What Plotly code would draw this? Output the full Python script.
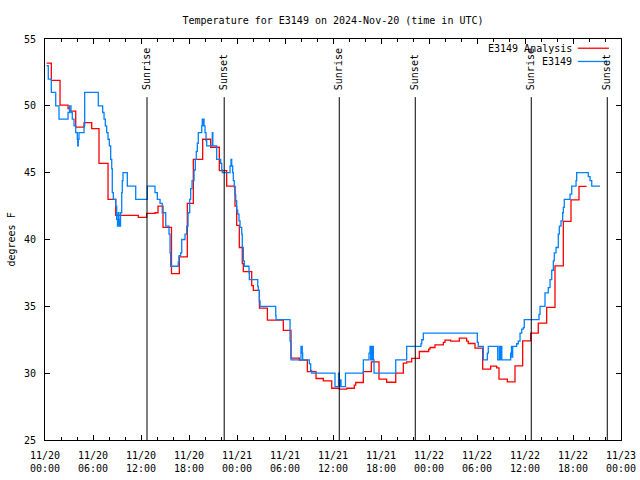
import plotly.graph_objects as go
import pandas as pd

TITLE = "Temperature for E3149 on 2024-Nov-20 (time in UTC)"
START = pd.Timestamp("2024-11-20 00:00")
END = pd.Timestamp("2024-11-23 00:00")

# Analysis series (hours since 11/20 00:00 UTC, degrees F)
ana_hours = [0.21, 0.79, 1.88, 2.88, 3.09, 3.84, 4.88, 5.84, 6.75, 7.88, 8.84, 11.66, 12.71,
             13.75, 14.13, 14.75, 15.81, 16.79, 17.79, 18.54, 19.71, 20.71, 21.79, 22.71,
             23.75, 23.96, 24.29, 24.66, 24.79, 25.84, 26.04, 26.8, 27.8, 29.79, 30.75,
             31.79, 32.79, 33.88, 34.79, 35.84, 36.79, 37.71, 38.66, 38.84, 39.79, 40.79,
             41.75, 42.71, 43.84, 44.79, 45.21, 45.84, 46.79, 47.96, 48.13, 48.75, 49.79,
             50.0, 50.71, 51.79, 52.71, 52.91, 53.75, 54.71, 55.71, 56.46, 56.75, 57.79,
             58.75, 59.71, 60.71, 61.66, 62.71, 63.75, 64.79, 65.75, 66.75, 67.71]
ana_temp = [53.2, 51.9, 50.05, 49.8, 49.6, 48.4, 48.75, 48.3, 45.7, 43.0, 41.8, 41.65, 41.95,
            42.0, 42.5, 40.9, 37.45, 38.7, 42.7, 46.0, 47.5, 46.9, 45.15, 44.0,
            42.5, 41.05, 39.4, 38.2, 37.6, 36.55, 36.2, 34.87, 33.97, 33.2, 31.12,
            30.97, 30.12, 29.6, 29.42, 28.87, 28.8, 28.87, 29.1, 29.3, 30.12, 30.85,
            29.55, 29.32, 30.0, 30.75, 30.85, 31.1, 31.62, 31.8, 31.92, 32.12, 32.3,
            32.47, 32.4, 32.62, 32.4, 32.22, 31.87, 30.3, 30.52, 30.4, 29.55, 29.35,
            30.55, 32.42, 33.0, 33.75, 34.92, 38.02, 41.35, 42.97, 43.97, 43.97]

# Observed series (hours since 11/20 00:00 UTC, degrees F)
obs_hours = [0.21, 0.41, 0.79, 1.34, 1.75, 2.88, 3.06, 3.25, 3.41, 3.63, 3.84, 4.04, 4.09, 4.16,
             4.25, 4.88, 4.96, 6.66, 7.21, 7.38, 7.54, 7.71, 7.88, 8.04, 8.21, 8.34, 8.41,
             8.54, 8.84, 8.96, 9.06, 9.15, 9.23, 9.31, 9.44, 9.59, 9.66, 9.75, 10.29, 11.34,
             12.79, 13.75, 14.04, 14.38, 14.66, 15.09, 15.5, 15.63, 15.71, 16.66, 16.75,
             16.96, 17.09, 17.5, 17.71, 17.88, 18.09, 18.21, 18.38, 18.63, 18.79, 18.91,
             19.04, 19.16, 19.59, 19.66, 19.73, 19.79, 19.88, 20.0, 20.13, 20.21, 20.91,
             20.98, 21.46, 21.96, 22.09, 22.16, 23.13, 23.25, 23.34, 23.46, 23.54, 23.66,
             23.75, 23.84, 23.96, 24.09, 24.25, 24.38, 24.59, 24.66, 24.79, 24.91, 25.5,
             25.54, 26.59, 26.66, 26.79, 26.88, 28.84, 28.88, 30.63, 30.75, 32.0, 32.16,
             32.21, 33.04, 33.21, 33.34, 36.25, 36.69, 36.79, 36.94, 37.0, 37.56, 39.79,
             40.5, 40.63, 40.71, 40.79, 40.88, 40.96, 41.04, 41.13, 43.84, 45.21, 47.0,
             47.09, 47.29, 54.04, 54.16, 54.79, 55.29, 55.41, 56.59, 56.79, 56.88, 57.0,
             57.1, 58.21, 58.31, 58.38, 58.46, 58.96, 59.16, 59.38, 59.59, 59.79, 59.91,
             61.75, 61.88, 62.5, 62.91, 63.13, 63.34, 63.54, 63.66, 63.88, 64.16, 64.29,
             64.5, 64.71, 64.79, 64.91, 65.63, 65.84, 66.38, 66.46, 67.91, 68.13, 68.34,
             69.38]
obs_temp = [53, 52, 51, 50, 49, 49.5, 50, 49.5, 49, 48.5, 48, 47.5, 47, 47.5,
            48, 48.5, 51, 50, 49.5, 49, 48.5, 48, 47.5, 47, 46, 45.3, 43.5,
            43, 42.5, 41.5, 41, 42, 41.5, 41, 42, 43.5, 44.4, 45, 44, 43,
            44, 43.5, 43, 42.7, 42, 41, 40.4, 39, 38, 38.3, 38.8,
            39, 40, 40.4, 41, 42, 43, 43.8, 44.4, 45.2, 46, 46.6,
            47.2, 48, 48.5, 49, 48.5, 49, 48.5, 48, 47.4, 47, 48,
            47, 46, 45.7, 45.2, 45, 45.5, 46, 45.5, 45, 44.4, 43.9,
            43.4, 42.9, 42.2, 41.9, 41.4, 40.9, 40.4, 39.4, 38.4, 38, 37.5,
            37, 36.5, 36.2, 35.4, 35, 34.3, 34, 32.4, 31, 32, 31.5,
            31, 30.7, 30.2, 30, 29, 30, 29, 29.5, 29, 30, 31,
            31.5, 32, 31, 32, 31, 32, 31, 30, 31, 32, 32.2,
            32.5, 33, 32.3, 32, 31, 31.5, 32, 31, 32, 31, 32,
            31, 31.5, 32, 31.2, 32, 32.2, 32.4, 33, 33.3, 33.4, 34,
            34.4, 35, 36, 36.4, 37, 37.7, 38.4, 39, 39.4, 40.4, 41,
            41.4, 42, 42.4, 43, 43.4, 44, 44.4, 45, 44.7, 44.4, 44,
            44]

sun_labels = ["Sunrise", "Sunset", "Sunrise", "Sunset", "Sunrise", "Sunset"]
sun_times = ["2024-11-20 12:45", "2024-11-20 22:24", "2024-11-21 12:47",
             "2024-11-21 22:17", "2024-11-22 12:47", "2024-11-22 22:17"]

series_names = ["E3149 Analysis", "E3149"]
series_colors = ["#ff0000", "#0080ff"]
y_ticks = [25, 30, 35, 40, 45, 50, 55]

FONT = "DejaVu Sans Mono"

def to_time(hours):
    return START + pd.to_timedelta(hours, unit="h")

fig = go.Figure()
fig.add_trace(go.Scatter(x=to_time(ana_hours), y=ana_temp, mode="lines",
                         line=dict(color=series_colors[0], width=1.3, shape="hv"),
                         name=series_names[0]))
fig.add_trace(go.Scatter(x=to_time(obs_hours), y=obs_temp, mode="lines",
                         line=dict(color=series_colors[1], width=1.3, shape="hv"),
                         name=series_names[1]))

for lab, t in zip(sun_labels, sun_times):
    fig.add_shape(type="line", xref="x", yref="paper", x0=t, x1=t, y0=0, y1=0.855,
                  line=dict(color="black", width=1))
    fig.add_annotation(x=t, xref="x", y=0.868, yref="paper", text=lab, textangle=-90,
                       showarrow=False, xanchor="center", yanchor="bottom",
                       font=dict(family=FONT, size=10, color="black"))

# gnuplot-style legend: text right-aligned, sample line to its right
leg_y = [0.977, 0.944]
for name, col, yy in zip(series_names, series_colors, leg_y):
    fig.add_annotation(x=0.919, xref="paper", y=yy, yref="paper", text=name,
                       showarrow=False, xanchor="right", yanchor="middle",
                       font=dict(family=FONT, size=10, color="black"))
    fig.add_shape(type="line", xref="paper", yref="paper", x0=0.925, x1=0.979,
                  y0=yy, y1=yy, line=dict(color=col, width=1.3))

fig.add_annotation(x=-0.059, xref="paper", y=0.5, yref="paper", text="degrees F",
                   textangle=-90, showarrow=False, xanchor="center", yanchor="middle",
                   font=dict(family=FONT, size=10, color="black"))

fig.update_layout(
    width=640, height=480,
    margin=dict(l=45, r=19, t=39, b=40, autoexpand=False),
    paper_bgcolor="white", plot_bgcolor="white",
    showlegend=False,
    hovermode=False,
    font=dict(family=FONT, size=10, color="black"),
    title=dict(text=TITLE, x=333 / 640, xanchor="center", y=1 - 20 / 480,
               yanchor="middle", font=dict(family=FONT, size=10, color="black")),
    xaxis=dict(range=[START, END], type="date", tick0=START, dtick=6 * 3600 * 1000,
               tickformat="%m/%d<br>%H:%M", ticks="inside", ticklen=5, tickcolor="black",
               showline=True, linecolor="black", linewidth=1, mirror="allticks",
               showgrid=False, zeroline=False, ticklabelstandoff=6, automargin=False,
               minor=dict(dtick=2 * 3600 * 1000, ticks="inside", ticklen=3,
                          tickcolor="black", showgrid=False)),
    yaxis=dict(range=[25, 55], tickvals=y_ticks, ticks="inside", ticklen=5,
               tickcolor="black", showline=True, linecolor="black", linewidth=1,
               mirror="allticks", showgrid=False, zeroline=False, ticklabelstandoff=6,
               automargin=False),
)

# remove the browser's default 8px body margin so the 640x480 figure fills the window
fig.write_html("out.html", config={"displayModeBar": False},
               post_script="document.body.style.margin='0';")
